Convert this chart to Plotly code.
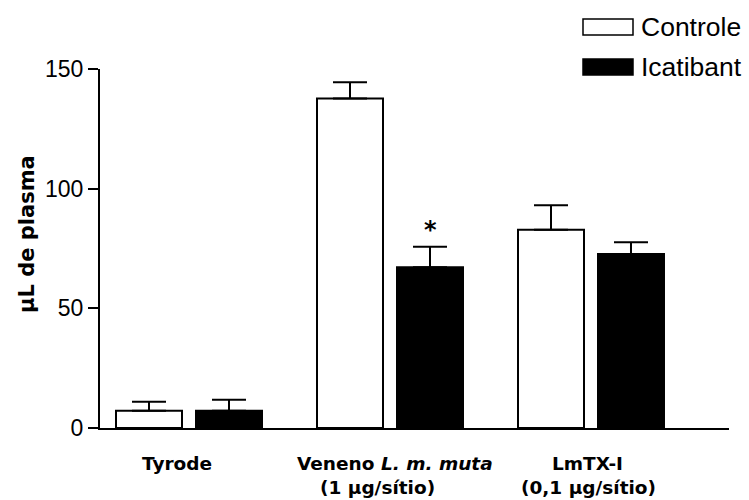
import plotly.graph_objects as go

# ---- data ----
groups = [0, 1, 2]
group_labels_line1 = ["Tyrode", "Veneno <i>L. m. muta</i>", "LmTX-I"]
group_labels_line2 = ["", "(1 µg/sítio)", "(0,1 µg/sítio)"]
series_names = ["Controle", "Icatibant"]
controle_mean = [7.2, 137.7, 82.8]
controle_err = [3.8, 6.8, 10.3]
icatibant_mean = [7.2, 67.2, 72.7]
icatibant_err = [4.6, 8.5, 4.9]
y_ticks = [0, 50, 100, 150]

# ---- layout constants (pixels) ----
W, H = 749, 500
ML, MR, MT, MB = 100, 20, 69, 72
PW = W - ML - MR
PH = H - MT - MB

def px_x(px):
    return (px - ML) / PW

def px_y(py):
    return (H - MB - py) / PH

fig = go.Figure()
fig.add_trace(go.Bar(
    x=groups, y=controle_mean, name=series_names[0],
    marker=dict(color="white", line=dict(color="black", width=2)),
    error_y=dict(type="data", symmetric=False, array=controle_err,
                 arrayminus=[0] * len(groups), color="black",
                 thickness=2, width=17),
    showlegend=False,
))
fig.add_trace(go.Bar(
    x=groups, y=icatibant_mean, name=series_names[1],
    marker=dict(color="black", line=dict(color="black", width=2)),
    error_y=dict(type="data", symmetric=False, array=icatibant_err,
                 arrayminus=[0] * len(groups), color="black",
                 thickness=2, width=17),
    showlegend=False,
))

# significance marker on Veneno / Icatibant
fig.add_annotation(
    x=groups[1] + 0.199, y=icatibant_mean[1] + icatibant_err[1],
    xref="x", yref="y", text="*", showarrow=False,
    yanchor="middle", yshift=17,
    font=dict(family="DejaVu Sans", size=24, color="black", weight="bold"),
)

# category labels (annotations)
lab_font = dict(family="DejaVu Sans", size=18.5, color="black", weight="bold")
line1_off = [-0.06, 0.025, -0.015]
line2_off = [0.0, -0.06, -0.01]
for i, g in enumerate(groups):
    fig.add_annotation(x=g + line1_off[i], y=px_y(463), xref="x", yref="paper",
                       text=group_labels_line1[i], showarrow=False,
                       xanchor="center", yanchor="middle", font=lab_font)
    if group_labels_line2[i]:
        fig.add_annotation(x=g + line2_off[i], y=px_y(487), xref="x", yref="paper",
                           text=group_labels_line2[i], showarrow=False,
                           xanchor="center", yanchor="middle", font=lab_font)

# y-axis title
fig.add_annotation(x=px_x(27), y=px_y(234), xref="paper", yref="paper",
                   text="µL de plasma", textangle=-90, showarrow=False,
                   xanchor="center", yanchor="middle",
                   font=dict(family="DejaVu Sans", size=21, color="black", weight="bold"))

# custom legend
leg_rows = [(27, "white"), (67, "black")]
for (cy, fill), name in zip(leg_rows, series_names):
    fig.add_shape(type="rect", xref="paper", yref="paper",
                  x0=px_x(583), x1=px_x(633), y0=px_y(cy - 8), y1=px_y(cy + 8),
                  fillcolor=fill, line=dict(color="black", width=1.5))
    fig.add_annotation(x=px_x(639), y=px_y(cy), xref="paper", yref="paper",
                       text=name, showarrow=False, xanchor="left", yanchor="middle",
                       font=dict(family="Liberation Sans, Arial", size=26.5, color="black"))

fig.update_layout(
    width=W, height=H,
    margin=dict(l=ML, r=MR, t=MT, b=MB, pad=0),
    paper_bgcolor="white", plot_bgcolor="white",
    barmode="group", bargap=0.204, bargroupgap=0.175,
    font=dict(family="Liberation Sans, Arial", color="black"),
    xaxis=dict(range=[-0.4428, 2.6866], showticklabels=False, ticks="",
               showgrid=False, zeroline=False, showline=True,
               linecolor="black", linewidth=2),
    yaxis=dict(range=[0, 150], tickvals=y_ticks, ticks="outside", ticklen=10,
               tickwidth=2, tickcolor="black", showgrid=False, zeroline=False,
               showline=True, linecolor="black", linewidth=2,
               tickfont=dict(family="Liberation Sans, Arial", size=23, color="black")),
)

fig.write_html("out.html")
